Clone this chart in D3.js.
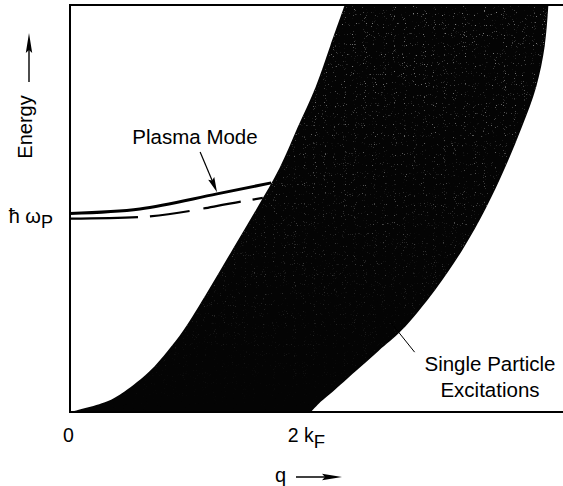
<!DOCTYPE html>
<html>
<head>
<meta charset="utf-8">
<script src="https://cdn.jsdelivr.net/npm/d3@7"></script>
<style>
  html, body { margin: 0; padding: 0; background: #fff; }
  svg { display: block; font-family: "Liberation Sans", Arial, Helvetica, sans-serif; }
</style>
</head>
<body>
<svg id="chart" width="563" height="486"></svg>
<script>
// Energy levels (arbitrary units) at which both edges of the single-particle continuum are sampled
const energyLevels = [0, 0.25, 0.5, 1, 1.5, 2, 3, 4, 5, 6, 7, 8, 9, 10];
// Wave vector (units of k_F) of the high-energy edge of the continuum
const qUpperEdge = [0, 0.30, 0.45, 0.66, 0.81, 0.94, 1.15, 1.35, 1.55, 1.74, 1.89, 2.04, 2.16, 2.28];
// Wave vector (units of k_F) of the low-energy edge of the continuum
const qLowerEdge = [2.0, 2.08, 2.18, 2.37, 2.56, 2.75, 3.03, 3.26, 3.45, 3.61, 3.75, 3.87, 3.94, 3.97];

// Plasmon dispersion (solid) and its simple estimate (dashed)
const plasmaQ = [0, 0.58, 1.22, 1.67];
const plasmaE = [4.88, 4.99, 5.36, 5.63];
const plasmaEstQ = [0, 0.58, 1.44, 1.60];
const plasmaEstE = [4.75, 4.79, 5.18, 5.26];

// Axis ticks: [main text, subscript]
const qTickValues = [0, 2];
const qTickLabels = [["0", ""], ["2 k", "F"]];
const energyTickValues = [4.82];
const energyTickLabels = [["\u0127 \u03c9", "P"]];

const svg = d3.select("#chart");

const x = d3.scaleLinear().domain([0, 2]).range([70, 311]);
const y = d3.scaleLinear().domain([0, 10]).range([412, 5]);

const defs = svg.append("defs");

// fine speckled print texture for the shaded continuum
const grain = defs.append("filter").attr("id", "grain")
  .attr("x", 0).attr("y", 0).attr("width", "100%").attr("height", "100%");
grain.append("feTurbulence").attr("type", "fractalNoise")
  .attr("baseFrequency", 0.9).attr("numOctaves", 1).attr("seed", 7).attr("result", "n");
grain.append("feColorMatrix").attr("in", "n").attr("type", "matrix")
  .attr("values", "0 0 0 0 0.32  0 0 0 0 0.32  0 0 0 0 0.32  9 0 0 0 -5.9");

const fade = defs.append("linearGradient").attr("id", "fade")
  .attr("x1", 0).attr("y1", 0).attr("x2", 0).attr("y2", 1);
fade.append("stop").attr("offset", "0%").attr("stop-color", "#fff").attr("stop-opacity", 0.85);
fade.append("stop").attr("offset", "50%").attr("stop-color", "#fff").attr("stop-opacity", 0.5);
fade.append("stop").attr("offset", "100%").attr("stop-color", "#fff").attr("stop-opacity", 0);
defs.append("mask").attr("id", "fadeMask")
  .attr("maskUnits", "userSpaceOnUse")
  .attr("x", 0).attr("y", 0).attr("width", 563).attr("height", 486)
  .append("rect").attr("x", 0).attr("y", y(10)).attr("width", 563).attr("height", y(0) - y(10))
  .attr("fill", "url(#fade)");

// continuum band
const band = energyLevels.map((e, i) => ({ e, qa: qUpperEdge[i], qb: qLowerEdge[i] }));
const bandArea = d3.area()
  .y(d => y(d.e))
  .x0(d => x(d.qa))
  .x1(d => x(d.qb))
  .curve(d3.curveCatmullRom.alpha(0.5));

defs.append("clipPath").attr("id", "bandClip")
  .append("path").attr("d", bandArea(band));

svg.append("path")
  .attr("d", bandArea(band))
  .attr("fill", "#040404");

svg.append("g")
  .attr("clip-path", "url(#bandClip)")
  .attr("mask", "url(#fadeMask)")
  .append("rect")
  .attr("x", x(0)).attr("y", y(10))
  .attr("width", 563 - x(0)).attr("height", y(0) - y(10))
  .attr("filter", "url(#grain)");

// plasma mode curves
const curve = d3.line().x(d => x(d[0])).y(d => y(d[1])).curve(d3.curveMonotoneX);
svg.append("path")
  .attr("d", curve(plasmaEstQ.map((q, i) => [q, plasmaEstE[i]])))
  .attr("fill", "none").attr("stroke", "#000").attr("stroke-width", 2.2)
  .attr("stroke-dasharray", "68 12 40 14 38 12 40");
svg.append("path")
  .attr("d", curve(plasmaQ.map((q, i) => [q, plasmaE[i]])))
  .attr("fill", "none").attr("stroke", "#000").attr("stroke-width", 3);

// frame
const frame = svg.append("g").attr("stroke", "#000").attr("stroke-width", 2).attr("fill", "none");
frame.append("line").attr("x1", x(0)).attr("x2", x(0)).attr("y1", y(10) - 1).attr("y2", y(0) + 1);
frame.append("line").attr("x1", x(0) - 1).attr("x2", 563).attr("y1", y(10)).attr("y2", y(10));
frame.append("line").attr("x1", x(0) - 1).attr("x2", 563).attr("y1", y(0)).attr("y2", y(0));

// helper: main text followed by a lowered subscript
function writeLabel(sel, parts, mainSize, subSize, subShift) {
  sel.text(null);
  sel.append("tspan").attr("font-size", mainSize).text(parts[0]);
  if (parts[1]) sel.append("tspan").attr("font-size", subSize).attr("dy", subShift).text(parts[1]);
}

// q axis ticks
const xAxis = svg.append("g")
  .attr("transform", `translate(0,${y(0)})`)
  .call(d3.axisBottom(x).tickValues(qTickValues).tickSize(0).tickFormat((d, i) => qTickLabels[i][0]));
xAxis.select(".domain").remove();
xAxis.selectAll(".tick text")
  .attr("y", 30).attr("dy", null)
  .attr("font-family", null)
  .attr("fill", "#000")
  .attr("dx", (d, i) => i === 1 ? -5 : -2)
  .each(function (d, i) { writeLabel(d3.select(this), qTickLabels[i], 19.5, 18.5, 6); });

// energy axis tick
const yAxis = svg.append("g")
  .attr("transform", `translate(${x(0)},0)`)
  .call(d3.axisLeft(y).tickValues(energyTickValues).tickSize(0).tickPadding(17)
    .tickFormat((d, i) => energyTickLabels[i][0]));
yAxis.select(".domain").remove();
yAxis.selectAll(".tick text")
  .attr("font-family", null)
  .attr("fill", "#000")
  .attr("dy", 7)
  .each(function (d, i) { writeLabel(d3.select(this), energyTickLabels[i], 20, 18, 5); });

// arrow head pointing along the rotated +x direction
function arrowHead(g, tipX, tipY, angleDeg, len, half) {
  g.append("path")
    .attr("d", `M0,0 L${-len},${-half} L${-len * 0.85},0 L${-len},${half} Z`)
    .attr("transform", `translate(${tipX},${tipY}) rotate(${angleDeg})`)
    .attr("fill", "#000");
}

// axis titles with arrows
svg.append("text")
  .attr("transform", "translate(32,127) rotate(-90)")
  .attr("text-anchor", "middle")
  .attr("font-size", 20)
  .text("Energy");
svg.append("line").attr("x1", 29).attr("x2", 29).attr("y1", 82).attr("y2", 45)
  .attr("stroke", "#000").attr("stroke-width", 1.4);
arrowHead(svg, 29, 33, -90, 20, 3.2);

svg.append("text")
  .attr("x", 275).attr("y", 482)
  .attr("font-size", 20)
  .text("q");
svg.append("line").attr("x1", 296).attr("x2", 330).attr("y1", 477).attr("y2", 477)
  .attr("stroke", "#000").attr("stroke-width", 1.4);
arrowHead(svg, 342, 477, 0, 20, 3.2);

// "Plasma Mode" annotation
svg.append("text")
  .attr("x", 195).attr("y", 144)
  .attr("text-anchor", "middle")
  .attr("font-size", 20.5)
  .text("Plasma Mode");
const pa0 = [x(1.08), y(6.39)], pa1 = [x(1.22), y(5.40)];
const paAng = Math.atan2(pa1[1] - pa0[1], pa1[0] - pa0[0]) * 180 / Math.PI;
svg.append("line")
  .attr("x1", pa0[0]).attr("y1", pa0[1])
  .attr("x2", pa1[0] - 8 * Math.cos(paAng * Math.PI / 180))
  .attr("y2", pa1[1] - 8 * Math.sin(paAng * Math.PI / 180))
  .attr("stroke", "#000").attr("stroke-width", 1.2);
arrowHead(svg, pa1[0], pa1[1], paAng, 15, 3.3);

// "Single Particle Excitations" annotation
svg.append("line")
  .attr("x1", x(2.66)).attr("y1", y(2.21))
  .attr("x2", x(2.86)).attr("y2", y(1.47))
  .attr("stroke", "#000").attr("stroke-width", 1);
const spe = svg.append("text").attr("text-anchor", "middle").attr("font-size", 20.5);
spe.append("tspan").attr("x", 490).attr("y", 371).text("Single Particle");
spe.append("tspan").attr("x", 490).attr("y", 397).text("Excitations");
</script>
</body>
</html>
